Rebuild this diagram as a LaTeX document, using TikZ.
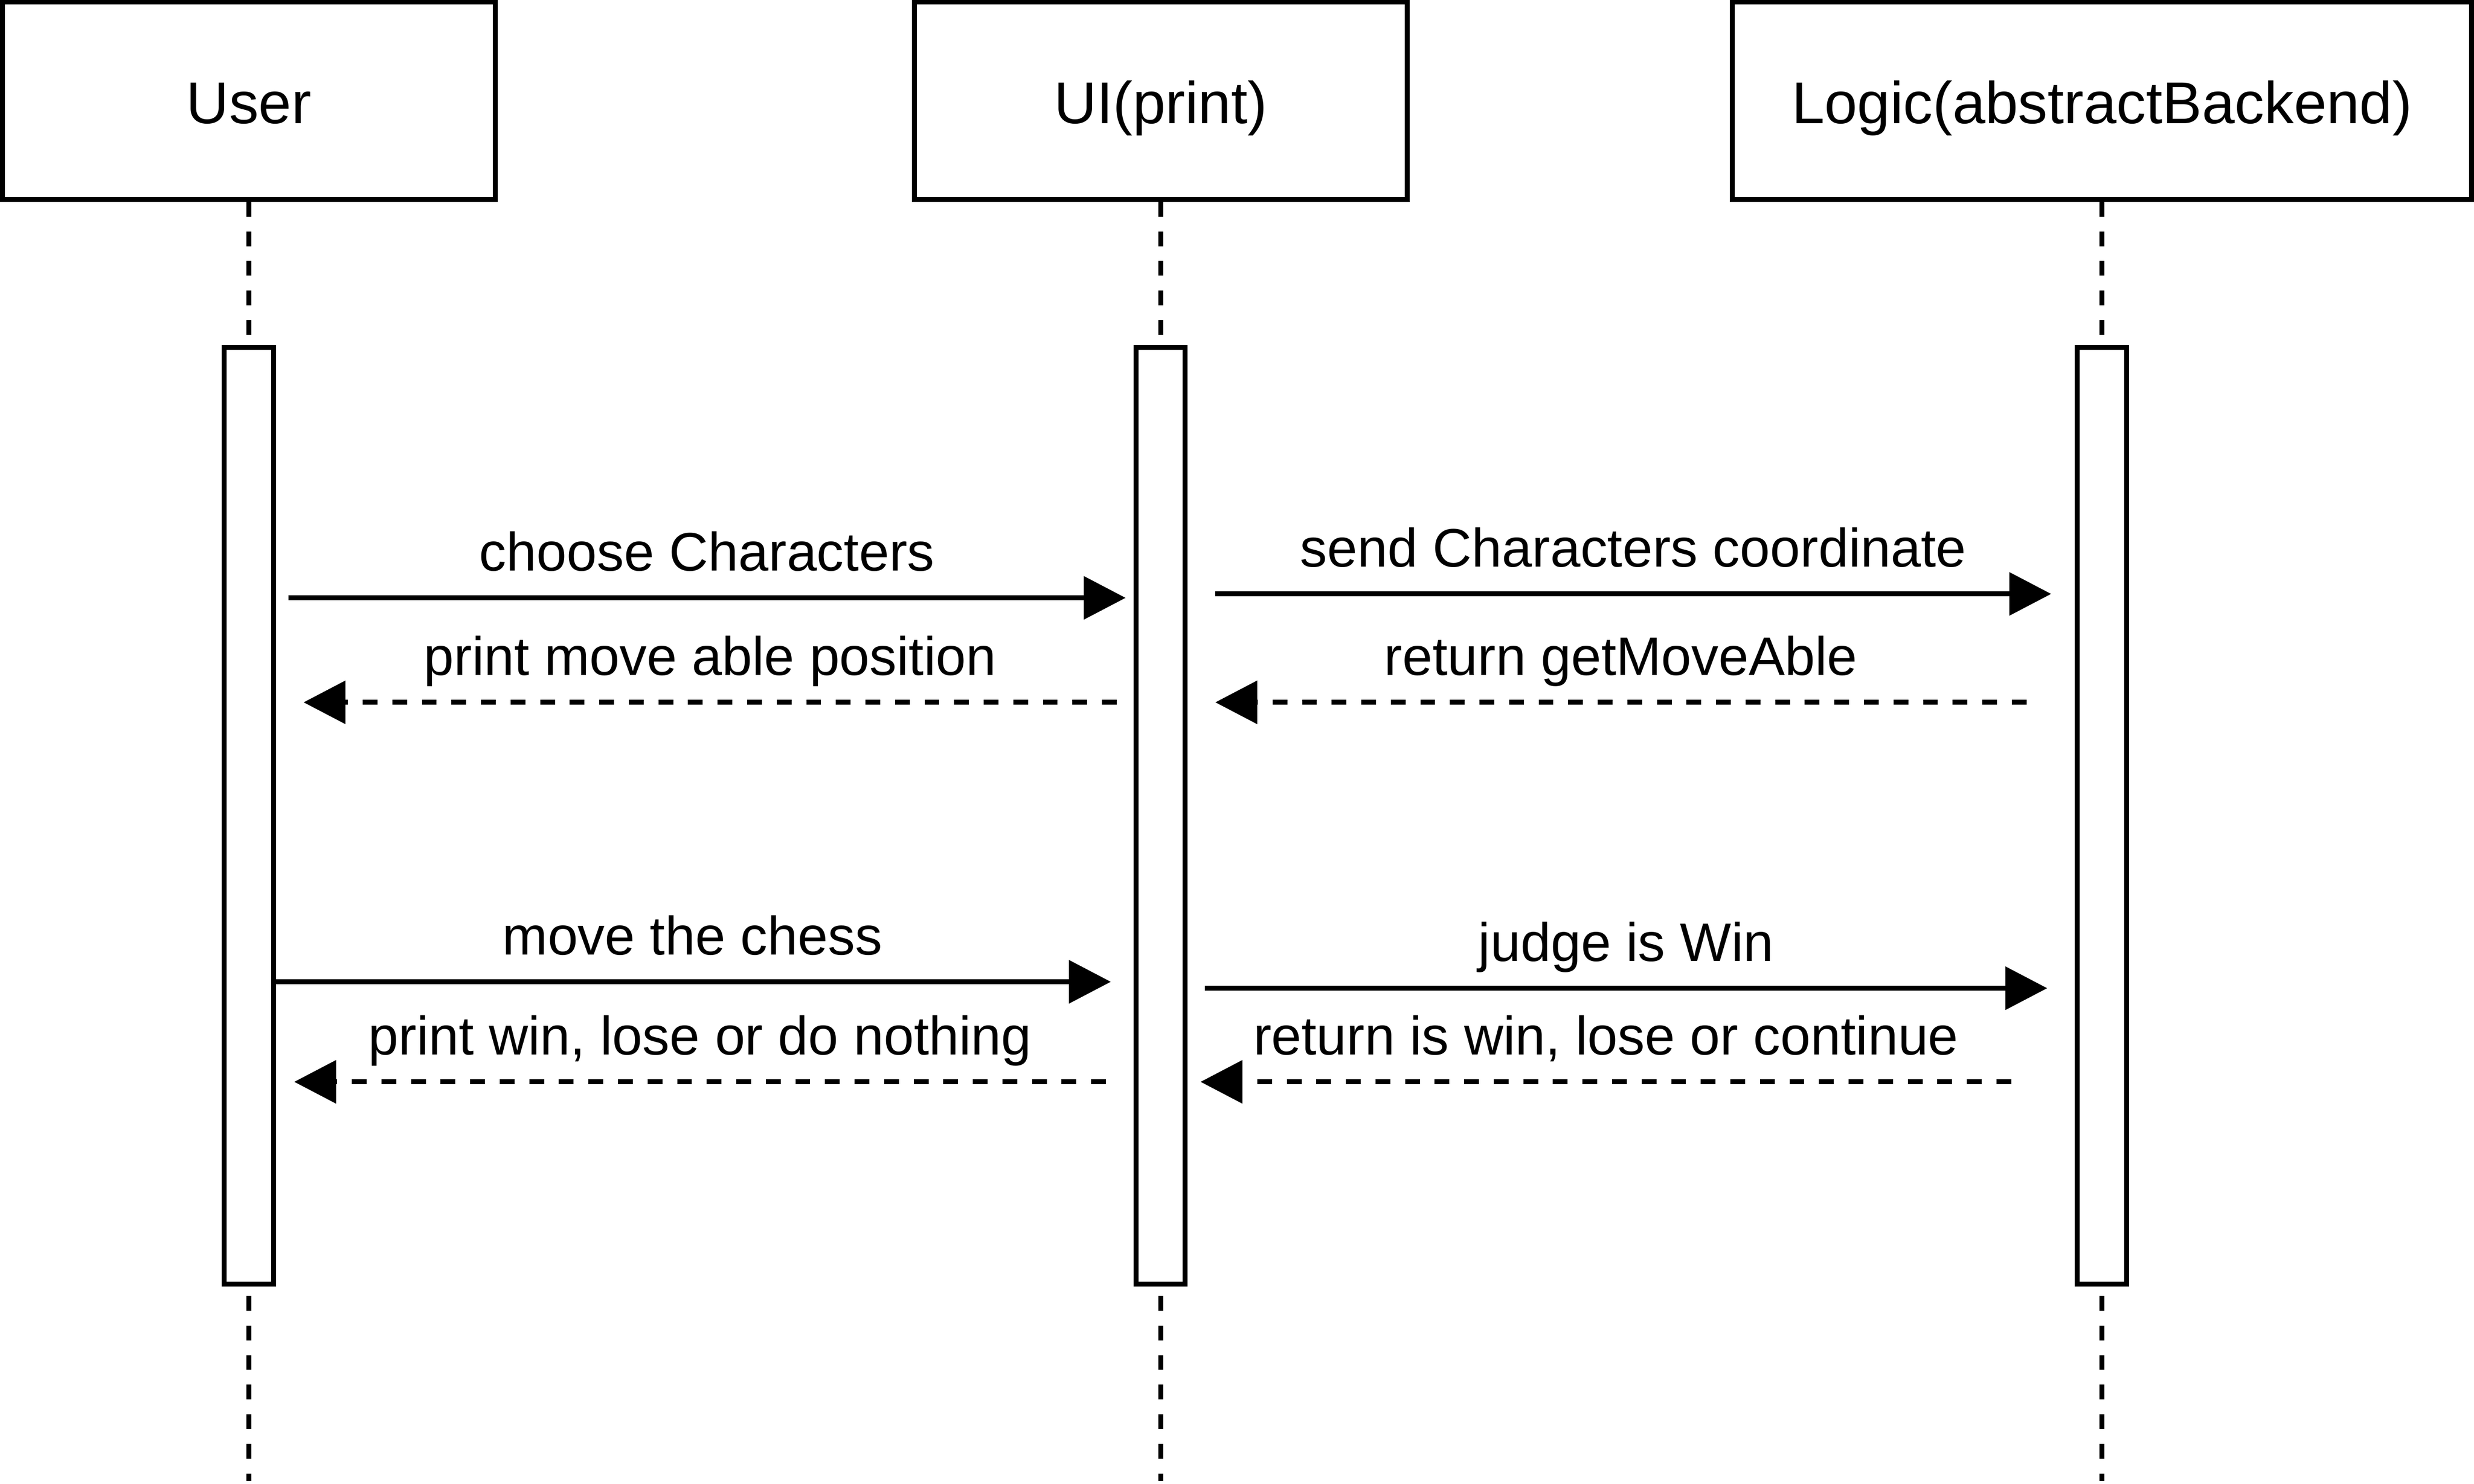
\documentclass[tikz,border=0pt]{standalone}
\usepackage{fontspec}
\setmainfont{Liberation Sans}
\usetikzlibrary{arrows.meta}

\begin{document}
\begin{tikzpicture}[y=-1cm,
    actor/.style={draw, line width=1mm, minimum height=4cm, text height=9.1mm, text depth=0pt,
        font=\fontsize{34.1pt}{41pt}\selectfont},
    bar/.style={draw, fill=white, line width=1mm, minimum width=1cm, minimum height=19cm},
    lifeline/.style={line width=1mm, dash pattern=on 3mm off 3mm},
    msg/.style={line width=1mm, -{Triangle[length=8.5mm, width=8.6mm]}},
    reply/.style={msg, dash pattern=on 3mm off 3mm},
    lbl/.style={midway, anchor=base, yshift=5.5mm, font=\fontsize{31.3pt}{38pt}\selectfont}]
        \useasboundingbox (0,0) rectangle (50.2,30.1);

        % Heads
        \node[actor, minimum width=10cm] (user) at (5.05,2.045) {User};
        \node[actor, minimum width=10cm] (ui) at (23.55,2.045) {UI(print)};
        \node[actor, minimum width=15cm] (logic) at (42.65,2.045) {Logic(abstractBackend)};

        % Lifelines
        \coordinate (userend) at (5.05,30.05);
        \coordinate (uiend) at (23.55,30.05);
        \coordinate (logicend) at (42.65,30.05);
        \draw[lifeline] (user) -- (userend);
        \draw[lifeline] (ui) -- (uiend);
        \draw[lifeline] (logic) -- (logicend);

        % Activation bars
        \node[bar] (userbar) at (5.05,16.55) {};
        \node[bar] (uibar) at (23.55,16.55) {};
        \node[bar] (logicbar) at (42.65,16.55) {};

        % Choosing a character
        \coordinate (chooseA) at (5.85,12.13);
        \coordinate (chooseB) at (22.84,12.13);
        \draw[msg] (chooseA) -- node[lbl] {choose Characters} (chooseB);
        \coordinate (showA) at (22.66,14.25);
        \coordinate (showB) at (6.16,14.25);
        \draw[reply] (showA) -- node[lbl] {print move able position} (showB);
        \coordinate (sendA) at (24.66,12.05);
        \coordinate (sendB) at (41.62,12.05);
        \draw[msg] (sendA) -- node[lbl] {send Characters coordinate} (sendB);
        \coordinate (backA) at (41.12,14.25);
        \coordinate (backB) at (24.66,14.25);
        \draw[reply] (backA) -- node[lbl] {return getMoveAble} (backB);

        % Moving the chess
        \coordinate (moveA) at (5.56,19.92);
        \coordinate (moveB) at (22.54,19.92);
        \draw[msg] (moveA) -- node[lbl] {move the chess} (moveB);
        \coordinate (resultA) at (22.44,21.95);
        \coordinate (resultB) at (5.97,21.95);
        \draw[reply] (resultA) -- node[lbl] {print win, lose or do nothing} (resultB);
        \coordinate (judgeA) at (24.45,20.05);
        \coordinate (judgeB) at (41.54,20.05);
        \draw[msg] (judgeA) -- node[lbl] {judge is Win} (judgeB);
        \coordinate (stateA) at (40.81,21.95);
        \coordinate (stateB) at (24.36,21.95);
        \draw[reply] (stateA) -- node[lbl] {return is win, lose or continue} (stateB);
    \end{tikzpicture}
\end{document}
